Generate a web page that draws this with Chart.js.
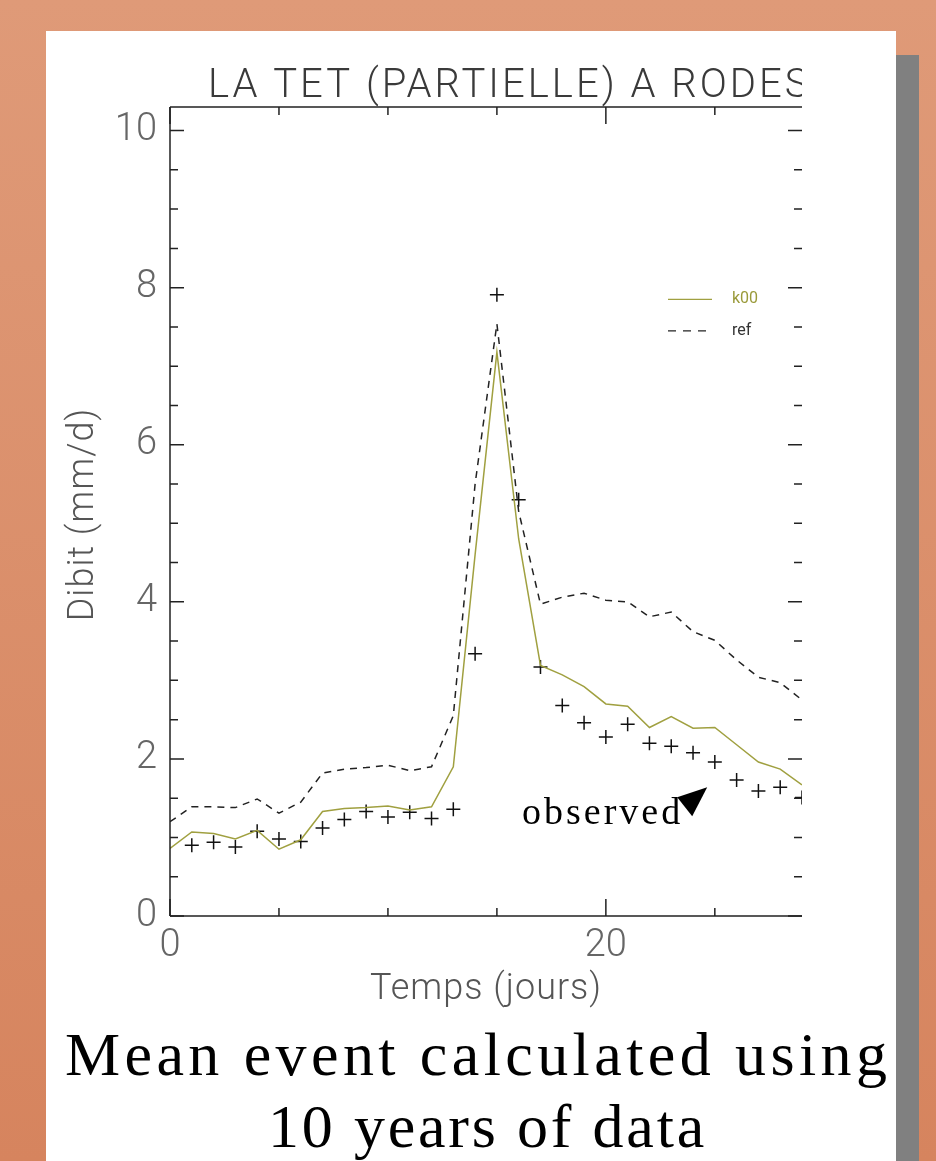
<!DOCTYPE html>
<html>
<head>
<meta charset="utf-8">
<script src="https://cdn.jsdelivr.net/npm/chart.js@4.4.1/dist/chart.umd.min.js"></script>
<style>
  html, body { margin: 0; padding: 0; }
  body {
    width: 936px; height: 1161px; overflow: hidden; position: relative;
    background: linear-gradient(to bottom, #df9a78 0%, #d6845e 100%);
  }
  #shadow { position: absolute; left: 69px; top: 55px; width: 850px; height: 1106px; background: #808080; }
  #panel { position: absolute; left: 46px; top: 31px; width: 850px; height: 1130px; background: #ffffff; }
  #wrap { position: absolute; left: 0; top: 0; width: 802px; height: 1010px; overflow: hidden; }
  .cap { position: absolute; white-space: nowrap; font-family: "Liberation Serif", "Times New Roman", serif;
         font-size: 62px; line-height: 62px; color: #000; }
</style>
</head>
<body>
<div id="shadow"></div>
<div id="panel"></div>
<div id="wrap"><canvas id="c" width="802" height="1010"></canvas></div>
<div class="cap" style="left:65px; top:1023px; letter-spacing:4.4px;">Mean event calculated using</div>
<div class="cap" style="left:268px; top:1095px; letter-spacing:2.8px;">10 years of data</div>
<script>
// ---- data ----
const days = [0,1,2,3,4,5,6,7,8,9,10,11,12,13,14,15,16,17,18,19,20,21,22,23,24,25,26,27,28,29];
const k00 = [0.86,1.07,1.05,0.98,1.09,0.85,0.97,1.33,1.37,1.38,1.40,1.35,1.39,1.90,4.60,7.18,4.80,3.19,3.07,2.92,2.70,2.67,2.40,2.54,2.39,2.40,2.18,1.96,1.87,1.67];
const ref = [1.20,1.39,1.39,1.38,1.49,1.31,1.45,1.82,1.87,1.89,1.92,1.85,1.90,2.55,5.50,7.54,5.15,3.97,4.06,4.11,4.02,4.00,3.81,3.87,3.62,3.51,3.26,3.04,2.97,2.75];
const observed = [null,0.90,0.94,0.88,1.08,0.98,0.95,1.12,1.23,1.33,1.26,1.32,1.24,1.36,3.34,7.91,5.30,3.17,2.68,2.46,2.28,2.44,2.20,2.16,2.08,1.96,1.73,1.59,1.64,1.51];
const xMajorTicks = [0, 20];
const xMinorTicks = [5, 10, 15, 25];
const yMajorTicks = [0, 2, 4, 6, 8, 10];
const yMinorTicks = [0.5,1,1.5,2.5,3,3.5,4.5,5,5.5,6.5,7,7.5,8.5,9,9.5,10.5];
const titleText = "LA TET (PARTIELLE) A RODES";
const xTitle = "Temps (jours)";
const yTitle = "Dibit (mm/d)";
const annotationText = "observed";
const annotationAt = {x: 24.65, y: 1.64};   // arrow tip, data units

const pts = arr => days.map((d, i) => ({x: d, y: arr[i]}));

const decor = {
  id: 'decor',
  afterDatasetsDraw(chart) {
    const {ctx, chartArea: a, scales: {x, y}} = chart;
    ctx.save();
    ctx.strokeStyle = '#222';
    ctx.lineWidth = 1.5;
    // axes lines
    ctx.beginPath();
    ctx.moveTo(a.left, a.top); ctx.lineTo(a.right, a.top);
    ctx.moveTo(a.left, a.top); ctx.lineTo(a.left, a.bottom);
    ctx.moveTo(a.left, a.bottom); ctx.lineTo(a.right, a.bottom);
    ctx.stroke();
    // y ticks (left and right)
    ctx.beginPath();
    yMajorTicks.forEach(v => { const p = y.getPixelForValue(v);
      ctx.moveTo(a.left, p); ctx.lineTo(a.left + 14, p);
      ctx.moveTo(a.right, p); ctx.lineTo(a.right - 14, p); });
    yMinorTicks.forEach(v => { const p = y.getPixelForValue(v); if (p < a.top) return;
      ctx.moveTo(a.left, p); ctx.lineTo(a.left + 8, p);
      ctx.moveTo(a.right, p); ctx.lineTo(a.right - 8, p); });
    // x ticks (bottom and top)
    xMajorTicks.forEach(v => { const p = x.getPixelForValue(v);
      ctx.moveTo(p, a.bottom); ctx.lineTo(p, a.bottom - 17);
      ctx.moveTo(p, a.top); ctx.lineTo(p, a.top + 17); });
    xMinorTicks.forEach(v => { const p = x.getPixelForValue(v);
      ctx.moveTo(p, a.bottom); ctx.lineTo(p, a.bottom - 8);
      ctx.moveTo(p, a.top); ctx.lineTo(p, a.top + 8); });
    ctx.stroke();

    // title
    ctx.fillStyle = '#3a3a3a';
    ctx.font = "300 40px Roboto, 'DejaVu Sans', sans-serif";
    ctx.letterSpacing = '3px';
    ctx.textAlign = 'left'; ctx.textBaseline = 'alphabetic';
    ctx.fillText(titleText, a.left + 38, 97);
    // axis titles
    ctx.fillStyle = '#555';
    ctx.font = "300 36px Roboto, 'DejaVu Sans', sans-serif";
    ctx.letterSpacing = '1px';
    ctx.textAlign = 'center';
    ctx.fillText(xTitle, (a.left + a.right) / 2, 999);
    ctx.save();
    ctx.translate(93, (a.top + a.bottom) / 2 + 3);
    ctx.rotate(-Math.PI / 2);
    ctx.fillText(yTitle, 0, 0);
    ctx.restore();
    ctx.letterSpacing = '0px';

    // legend
    const ds = chart.data.datasets;
    const legY = [y.getPixelForValue(7.85), y.getPixelForValue(7.45)];
    [0, 1].forEach(i => {
      const d = ds[i];
      ctx.save();
      ctx.strokeStyle = d.borderColor; ctx.lineWidth = 1.3;
      if (d.borderDash) ctx.setLineDash([8, 7]);
      ctx.beginPath(); ctx.moveTo(668, legY[i]); ctx.lineTo(712, legY[i]); ctx.stroke();
      ctx.restore();
      ctx.fillStyle = i === 0 ? '#9a9a3a' : '#333';
      ctx.font = "16px Roboto, 'DejaVu Sans', sans-serif";
      ctx.textAlign = 'left'; ctx.textBaseline = 'middle';
      ctx.fillText(d.label, 732, legY[i]);
    });

    // annotation "observed" with arrow head
    const tx = x.getPixelForValue(annotationAt.x), ty = y.getPixelForValue(annotationAt.y);
    ctx.fillStyle = '#000';
    ctx.font = "38px 'Liberation Serif', 'Times New Roman', serif";
    ctx.letterSpacing = '3px';
    ctx.textAlign = 'right'; ctx.textBaseline = 'alphabetic';
    ctx.fillText(annotationText, tx - 24, ty + 37);
    ctx.letterSpacing = '0px';
    ctx.beginPath();
    ctx.moveTo(tx, ty);
    ctx.lineTo(tx - 30, ty + 10);
    ctx.lineTo(tx - 15, ty + 29);
    ctx.closePath();
    ctx.fill();
    ctx.restore();
  }
};

new Chart(document.getElementById('c'), {
  type: 'line',
  data: {
    datasets: [
      { label: 'k00', data: pts(k00), borderColor: '#a0a040', borderWidth: 1.5, pointRadius: 0, tension: 0, fill: false },
      { label: 'ref', data: pts(ref), borderColor: '#222222', borderWidth: 1.5, borderDash: [7, 6], pointRadius: 0, tension: 0, fill: false },
      { label: 'observed', data: pts(observed), showLine: false, pointStyle: 'cross', pointRadius: 7,
        borderColor: '#111', borderWidth: 1.5, backgroundColor: '#111' }
    ]
  },
  options: {
    responsive: false,
    animation: false,
    devicePixelRatio: 1,
    layout: { autoPadding: false, padding: { top: 107, right: 0, left: 0, bottom: 0 } },
    plugins: { legend: { display: false }, title: { display: false }, tooltip: { enabled: false } },
    scales: {
      x: {
        type: 'linear', min: 0, max: 29,
        grid: { display: false, drawTicks: false }, border: { display: false },
        afterBuildTicks: s => { s.ticks = xMajorTicks.map(v => ({value: v})); },
        afterFit: s => { s.height = 94; s.paddingLeft = 0; s.paddingRight = 0; },
        ticks: { color: '#666', font: { family: "Roboto, 'DejaVu Sans', sans-serif", size: 38, weight: 300 }, padding: 8, maxRotation: 0 }
      },
      y: {
        type: 'linear', min: 0, max: 10.3,
        grid: { display: false, drawTicks: false }, border: { display: false },
        afterBuildTicks: s => { s.ticks = yMajorTicks.map(v => ({value: v})); },
        afterFit: s => { s.width = 170; },
        ticks: { color: '#666', font: { family: "Roboto, 'DejaVu Sans', sans-serif", size: 38, weight: 300 }, padding: 13 }
      }
    }
  },
  plugins: [decor]
});
</script>
</body>
</html>
